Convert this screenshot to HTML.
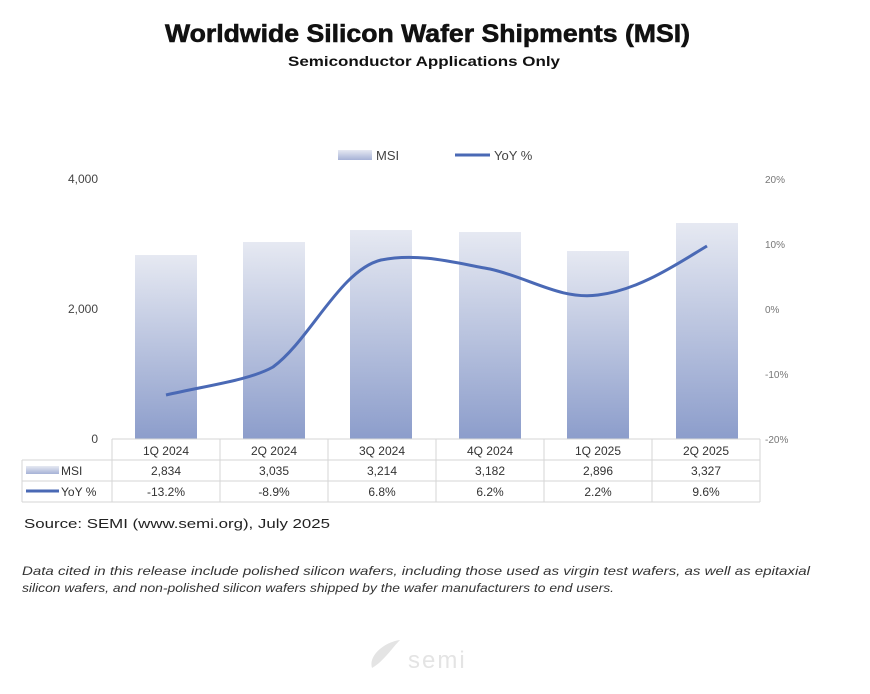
<!DOCTYPE html>
<html><head><style>
body{margin:0;background:#fff;width:870px;height:689px;overflow:hidden;font-family:"Liberation Sans",sans-serif;}
</style></head><body>
<svg width="870" height="689" xmlns="http://www.w3.org/2000/svg" font-family="Liberation Sans, sans-serif">
<defs>
<linearGradient id="g" x1="0" y1="0" x2="0" y2="1">
<stop offset="0" stop-color="#e6e9f2"/><stop offset="1" stop-color="#8c9dcb"/>
</linearGradient>
<linearGradient id="gs" x1="0" y1="0" x2="0" y2="1">
<stop offset="0" stop-color="#e6e9f2"/><stop offset="1" stop-color="#a6b2d6"/>
</linearGradient>
</defs>
<text x="165" y="42" font-size="25" font-weight="bold" fill="#111" stroke="#111" stroke-width="0.6" textLength="525" lengthAdjust="spacingAndGlyphs">Worldwide Silicon Wafer Shipments (MSI)</text>
<text x="288" y="66" font-size="14" font-weight="bold" fill="#111" textLength="272" lengthAdjust="spacingAndGlyphs">Semiconductor Applications Only</text>
<!-- legend -->
<rect x="338" y="150" width="34" height="10" fill="url(#gs)"/>
<text x="376" y="160" font-size="13" fill="#444">MSI</text>
<line x1="455" y1="155" x2="490" y2="155" stroke="#4a69b5" stroke-width="3"/>
<text x="494" y="160" font-size="13" fill="#444">YoY %</text>
<!-- axes labels -->
<g font-size="12" fill="#444" text-anchor="end">
<text x="98" y="183">4,000</text><text x="98" y="313">2,000</text><text x="98" y="443">0</text>
</g>
<g font-size="10" fill="#777">
<text x="765" y="183">20%</text><text x="765" y="248">10%</text><text x="765" y="313">0%</text><text x="765" y="378">-10%</text><text x="765" y="443">-20%</text>
</g>
<!-- bars -->
<g fill="url(#g)">
<rect x="135" y="255" width="62" height="184"/>
<rect x="243" y="242" width="62" height="197"/>
<rect x="350" y="230" width="62" height="209"/>
<rect x="459" y="232" width="62" height="207"/>
<rect x="567" y="251" width="62" height="188"/>
<rect x="676" y="223" width="62" height="216"/>
</g>
<path d="M166,395 C210,385 250,380 273,367 C310,340 340,270 381,260 C420,252 460,264 490,269 C530,278 560,300 598,295 C640,290 680,262 707,246" fill="none" stroke="#4a69b5" stroke-width="3"/>
<!-- table -->
<g stroke="#d6d6d6" stroke-width="1" fill="none">
<line x1="112" y1="439" x2="760" y2="439"/>
<line x1="22" y1="460" x2="760" y2="460"/>
<line x1="22" y1="481" x2="760" y2="481"/>
<line x1="22" y1="502" x2="760" y2="502"/>
<line x1="22" y1="460" x2="22" y2="502"/>
<line x1="112" y1="439" x2="112" y2="502"/>
<line x1="220" y1="439" x2="220" y2="502"/>
<line x1="328" y1="439" x2="328" y2="502"/>
<line x1="436" y1="439" x2="436" y2="502"/>
<line x1="544" y1="439" x2="544" y2="502"/>
<line x1="652" y1="439" x2="652" y2="502"/>
<line x1="760" y1="439" x2="760" y2="502"/>
</g>
<g font-size="12" fill="#333" text-anchor="middle">
<text x="166" y="455">1Q 2024</text><text x="274" y="455">2Q 2024</text><text x="382" y="455">3Q 2024</text><text x="490" y="455">4Q 2024</text><text x="598" y="455">1Q 2025</text><text x="706" y="455">2Q 2025</text>
<text x="166" y="475">2,834</text><text x="274" y="475">3,035</text><text x="382" y="475">3,214</text><text x="490" y="475">3,182</text><text x="598" y="475">2,896</text><text x="706" y="475">3,327</text>
<text x="166" y="496">-13.2%</text><text x="274" y="496">-8.9%</text><text x="382" y="496">6.8%</text><text x="490" y="496">6.2%</text><text x="598" y="496">2.2%</text><text x="706" y="496">9.6%</text>
</g>
<rect x="26" y="466" width="33" height="8" fill="url(#gs)"/>
<text x="61" y="475" font-size="12" fill="#333">MSI</text>
<line x1="26" y1="491" x2="59" y2="491" stroke="#4a69b5" stroke-width="3"/>
<text x="61" y="496" font-size="12" fill="#333">YoY %</text>
<text x="24" y="528" font-size="13" fill="#222" textLength="306" lengthAdjust="spacingAndGlyphs">Source: SEMI (www.semi.org), July 2025</text>
<text x="22" y="575" font-size="12" font-style="italic" fill="#333" textLength="788" lengthAdjust="spacingAndGlyphs">Data cited in this release include polished silicon wafers, including those used as virgin test wafers, as well as epitaxial</text>
<text x="22" y="592" font-size="12" font-style="italic" fill="#333" textLength="592" lengthAdjust="spacingAndGlyphs">silicon wafers, and non-polished silicon wafers shipped by the wafer manufacturers to end users.</text>
<!-- logo -->
<path d="M372,668 C368,655 385,642 400,640 C392,648 385,660 372,668 Z" fill="#e4e4e4"/>
<text x="408" y="668" font-size="24" fill="#e4e4e4" letter-spacing="2">semi</text>
</svg>
</body></html>
